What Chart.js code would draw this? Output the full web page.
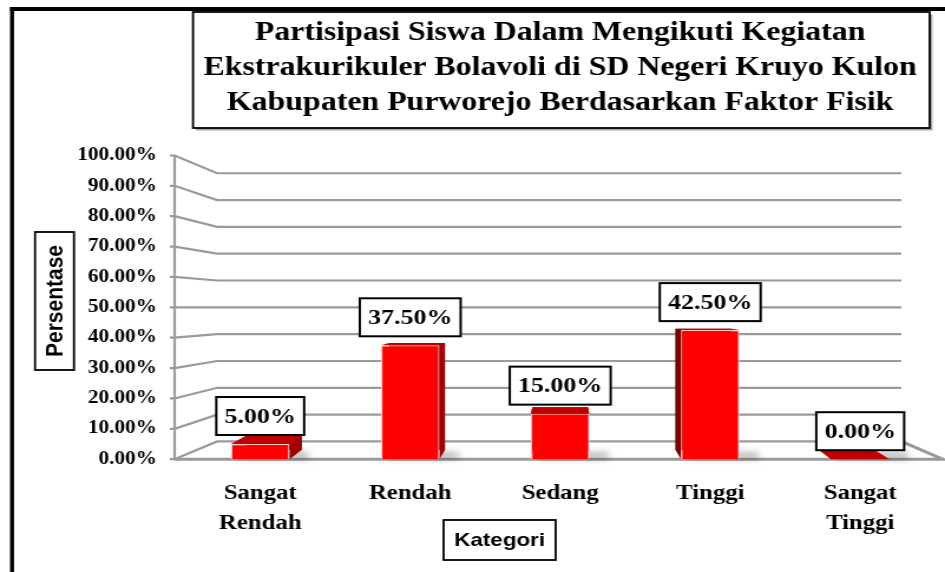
<!DOCTYPE html>
<html>
<head>
<meta charset="utf-8">
<title>Partisipasi Siswa - Faktor Fisik</title>
<script src="https://cdn.jsdelivr.net/npm/chart.js@4.4.1/dist/chart.umd.min.js"></script>
<style>
  html, body { margin: 0; padding: 0; background: #fff; overflow: hidden; }
  #chart { display: block; }
</style>
</head>
<body>
<!-- drawn at 801 wide and stretched to 945, like the original picture -->
<canvas id="chart" width="801" height="572" style="width:945px;height:572px"></canvas>
<script>
// Data
const titleLines = [
  'Partisipasi Siswa Dalam Mengikuti Kegiatan',
  'Ekstrakurikuler Bolavoli di SD Negeri Kruyo Kulon',
  'Kabupaten Purworejo Berdasarkan Faktor Fisik'
];
const categories = [['Sangat', 'Rendah'], 'Rendah', 'Sedang', 'Tinggi', ['Sangat', 'Tinggi']];
const percentages = [5.00, 37.50, 15.00, 42.50, 0.00];
const yTickValues = [0, 10, 20, 30, 40, 50, 60, 70, 80, 90, 100];
const yAxisTitle = 'Persentase';
const xAxisTitle = 'Kategori';

const SERIF = "'Liberation Serif'";
const SANS = "'Liberation Sans'";
const GRID_COLOR = '#9a9a9a';
const DEPTH_X = 0.045;   // how far the back of a bar leans toward the centre
const DEPTH_Y = 0.06;
const BACK_RATIO = 0.883; // back wall is a little shorter than the front axis
const AXIS_INSET = 9;     // front axis sits a bit left of the first category slot

function formatPct(v) {
  return Number(v).toFixed(2) + '%';
}

function fillPoly(ctx, pts, color) {
  ctx.beginPath();
  ctx.moveTo(pts[0][0], pts[0][1]);
  for (let i = 1; i < pts.length; i++) ctx.lineTo(pts[i][0], pts[i][1]);
  ctx.closePath();
  ctx.fillStyle = color;
  ctx.fill();
}

// Frame, title box, walls, gridlines and the 3D sides of the bars
const perspectivePlugin = {
  id: 'perspective',
  beforeDraw(chart) {
    const ctx = chart.ctx;
    ctx.save();
    ctx.fillStyle = '#fff';
    ctx.fillRect(0, 0, chart.width, chart.height);
    // outer frame
    ctx.fillStyle = '#000';
    ctx.fillRect(8.5, 7, 3.4, 580);
    ctx.fillRect(8.5, 7, 800, 4);
    // title box with a small shadow
    ctx.fillStyle = 'rgba(0,0,0,0.35)';
    ctx.fillRect(166, 14.5, 624.4, 116);
    ctx.fillStyle = '#fff';
    ctx.fillRect(163.6, 12, 624.4, 116);
    ctx.strokeStyle = '#000';
    ctx.lineWidth = 1.8;
    ctx.strokeRect(163.6, 12, 624.4, 116);
    ctx.restore();
  },
  beforeDatasetsDraw(chart) {
    const ctx = chart.ctx;
    const area = chart.chartArea;
    const y = chart.scales.y;
    const mid = y.getPixelForValue(50);
    const axisX = area.left - AXIS_INSET;
    const wallDx = 36;
    const backRight = area.right - 28.7;
    const frontRight = area.right + 6.3;

    ctx.save();
    ctx.strokeStyle = GRID_COLOR;
    ctx.lineWidth = 2.2;
    yTickValues.forEach(v => {
      const yF = y.getPixelForValue(v);
      const yB = mid + (yF - mid) * BACK_RATIO;
      ctx.beginPath();
      ctx.moveTo(axisX - 4, yF);
      ctx.lineTo(axisX, yF);
      ctx.lineTo(axisX + wallDx, yB);
      ctx.lineTo(backRight, yB);
      ctx.stroke();
    });
    const y0 = y.getPixelForValue(0);
    const y0b = mid + (y0 - mid) * BACK_RATIO;
    ctx.beginPath();
    ctx.moveTo(axisX, y.getPixelForValue(100));
    ctx.lineTo(axisX, y0);
    ctx.stroke();
    ctx.lineWidth = 3;
    ctx.beginPath();
    ctx.moveTo(axisX, y0);
    ctx.lineTo(frontRight, y0);
    ctx.lineTo(backRight, y0b);
    ctx.stroke();

    // bar depth
    const vx = (area.left + area.right) / 2;
    const vy = mid;
    const back = (px, py) => [px + (vx - px) * DEPTH_X, py + (vy - py) * DEPTH_Y];
    chart.getDatasetMeta(0).data.forEach(bar => {
      const p = bar.getProps(['x', 'y', 'base', 'width'], true);
      const l = p.x - p.width / 2, r = p.x + p.width / 2;
      const top = p.y, bot = p.base;

      // soft floor shadow
      ctx.save();
      ctx.filter = 'blur(3px)';
      ctx.fillStyle = 'rgba(0,0,0,0.28)';
      ctx.fillRect(l + 6, bot - 7, p.width + 10, 7);
      ctx.restore();

      const fTL = [l, top], fTR = [r, top], fBR = [r, bot], fBL = [l, bot];
      const bTL = back(l, top), bTR = back(r, top), bBR = back(r, bot), bBL = back(l, bot);
      fillPoly(ctx, [bTL, bTR, bBR, bBL], '#8b0000');
      if (p.x < vx) {
        fillPoly(ctx, [fTR, bTR, bBR, fBR], '#a00000');
      } else {
        fillPoly(ctx, [fTL, bTL, bBL, fBL], '#7a0000');
      }
      fillPoly(ctx, [fTL, fTR, bTR, bTL], '#c00000');
    });
    ctx.restore();
  },
  afterDatasetsDraw(chart) {
    const ctx = chart.ctx;
    const values = chart.data.datasets[0].data;
    ctx.save();
    ctx.font = 'bold 22px ' + SERIF;
    ctx.textAlign = 'center';
    ctx.textBaseline = 'middle';
    chart.getDatasetMeta(0).data.forEach((bar, i) => {
      const p = bar.getProps(['x', 'y'], true);
      const text = formatPct(values[i]);
      const bw = ctx.measureText(text).width + 14;
      const bh = 38;
      const bottom = p.y - 9;
      ctx.fillStyle = '#fff';
      ctx.fillRect(p.x - bw / 2, bottom - bh, bw, bh);
      ctx.strokeStyle = '#000';
      ctx.lineWidth = 2;
      ctx.strokeRect(p.x - bw / 2, bottom - bh, bw, bh);
      ctx.fillStyle = '#000';
      ctx.fillText(text, p.x, bottom - bh / 2 + 1);
    });
    ctx.restore();
  },
  afterDraw(chart) {
    const ctx = chart.ctx;
    // y axis title
    ctx.save();
    ctx.lineWidth = 1.8;
    ctx.strokeStyle = '#000';
    ctx.fillStyle = '#fff';
    ctx.fillRect(29.7, 232, 33, 138);
    ctx.strokeRect(29.7, 232, 33, 138);
    ctx.translate(46.5, 301);
    ctx.rotate(-Math.PI / 2);
    ctx.fillStyle = '#000';
    ctx.font = 'bold 21px ' + SANS;
    ctx.textAlign = 'center';
    ctx.textBaseline = 'middle';
    ctx.fillText(yAxisTitle, 0, 1);
    ctx.restore();

    // x axis title
    ctx.save();
    ctx.lineWidth = 1.8;
    ctx.strokeStyle = '#000';
    ctx.fillStyle = '#fff';
    ctx.fillRect(376, 520, 95, 40);
    ctx.strokeRect(376, 520, 95, 40);
    ctx.fillStyle = '#000';
    ctx.font = 'bold 19px ' + SANS;
    ctx.textAlign = 'center';
    ctx.textBaseline = 'middle';
    ctx.fillText(xAxisTitle, 423.5, 541);
    ctx.restore();
  }
};

function buildChart() {
  const ctx = document.getElementById('chart').getContext('2d');
  new Chart(ctx, {
    type: 'bar',
    data: {
      labels: categories,
      datasets: [{
        label: 'Persentase',
        data: percentages,
        backgroundColor: '#ff0000',
        borderColor: '#ffc8c8',
        borderWidth: 1.2,
        categoryPercentage: 1,
        barPercentage: 0.39
      }]
    },
    options: {
      responsive: false,
      animation: false,
      devicePixelRatio: 1,
      layout: { padding: { left: 0, right: 8.3, top: 0, bottom: 14 } },
      scales: {
        x: {
          grid: { display: false, drawTicks: false },
          border: { display: false },
          ticks: {
            padding: 20,
            color: '#000',
            maxRotation: 0,
            autoSkip: false,
            font: { family: SERIF, size: 21, weight: 'bold', lineHeight: 1.4 }
          }
        },
        y: {
          min: 0,
          max: 100,
          afterBuildTicks: scale => {
            scale.ticks = yTickValues.map(v => ({ value: v }));
          },
          afterFit: scale => { scale.width = 157; },
          grid: { display: false, drawTicks: false },
          border: { display: false },
          ticks: {
            padding: 24,
            color: '#000',
            font: { family: SERIF, size: 18, weight: 'bold' },
            callback: v => formatPct(v)
          }
        }
      },
      plugins: {
        legend: { display: false },
        tooltip: { enabled: false },
        title: {
          display: true,
          fullSize: false,
          text: titleLines,
          color: '#000',
          font: { family: SERIF, size: 27, weight: 'bold', lineHeight: 1.296 },
          padding: { top: 15.5, bottom: 35 }
        }
      }
    },
    plugins: [perspectivePlugin]
  });
}

Promise.all([
  document.fonts.load("bold 20px 'Liberation Serif'"),
  document.fonts.load("bold 20px 'Liberation Sans'")
]).then(buildChart, buildChart);
</script>
</body>
</html>
